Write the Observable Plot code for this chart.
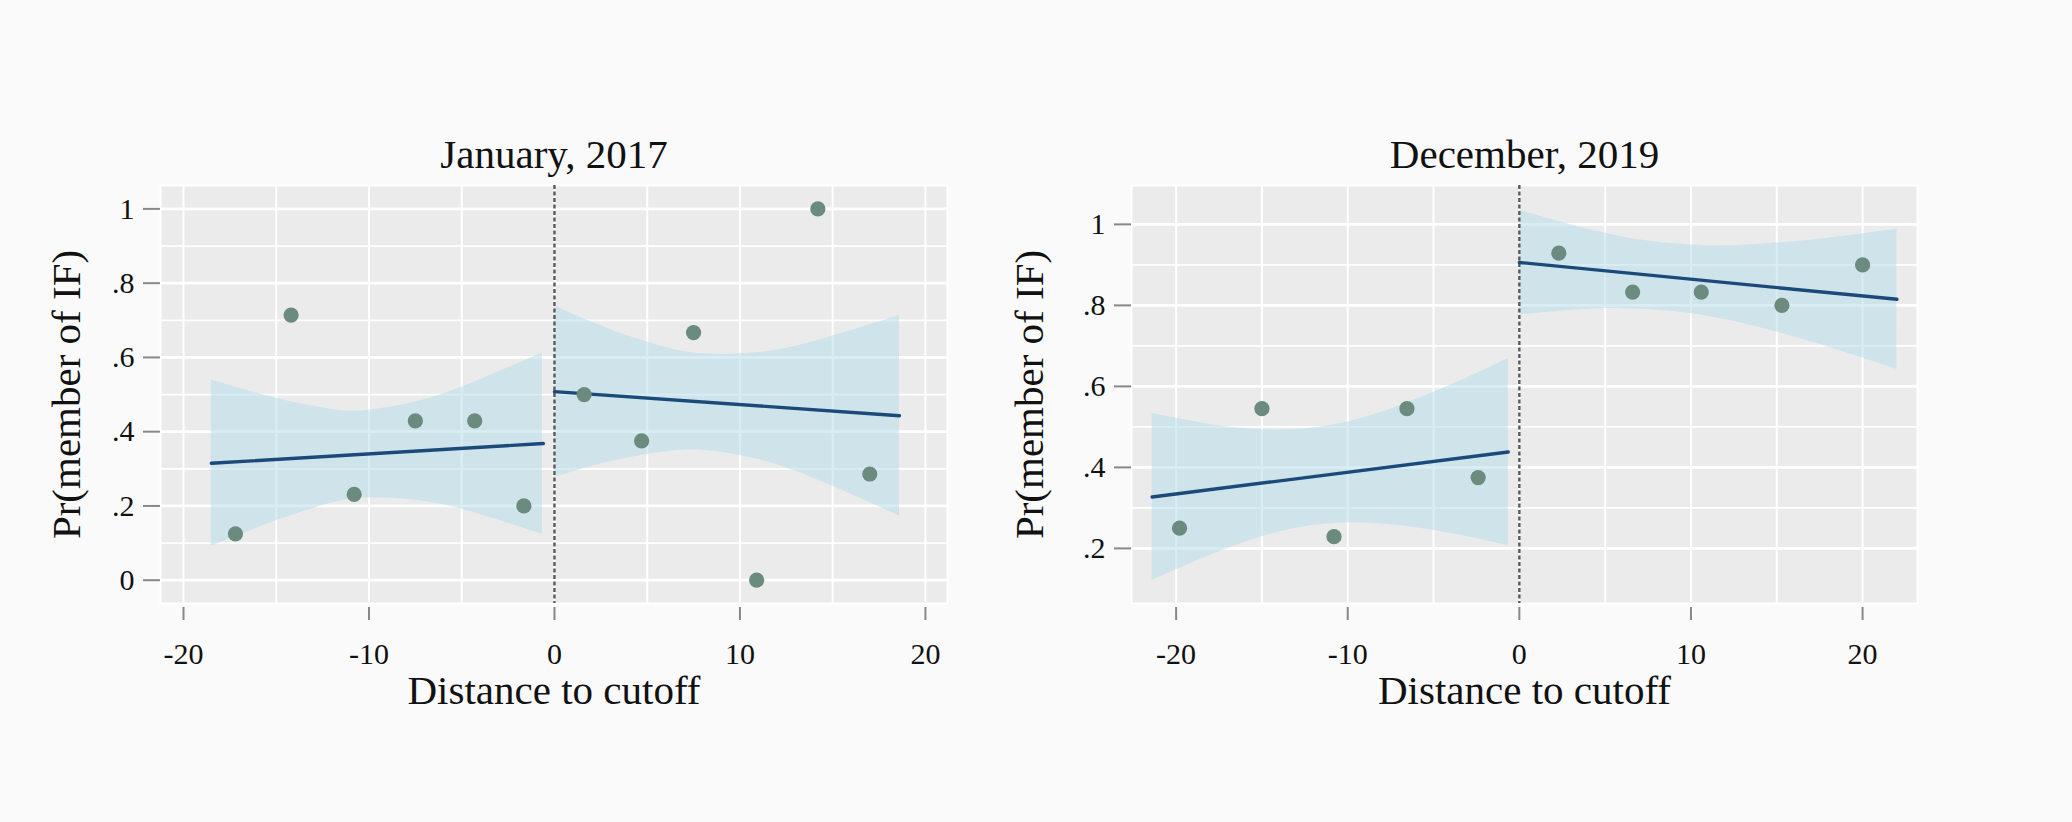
<!DOCTYPE html>
<html><head><meta charset="utf-8">
<script src="https://cdn.jsdelivr.net/npm/d3@7"></script>
<script src="https://cdn.jsdelivr.net/npm/@observablehq/plot@0.6"></script>
<style>
html,body{margin:0;padding:0;background:#fafafa;}
#wrap{display:flex;width:2072px;height:822px;background:#fafafa;}
</style></head><body><div id="wrap"></div>
<script>
// ---------- text ----------
const titles = ["January, 2017", "December, 2019"];
const xLabel = "Distance to cutoff";
const yLabel = "Pr(member of IF)";

// ---------- ticks ----------
const xTicks = [-20, -10, 0, 10, 20];
const xGrid = [-20, -15, -10, -5, 0, 5, 10, 15, 20];
const janYTicks = [0, 0.2, 0.4, 0.6, 0.8, 1];
const janYMinor = [0.1, 0.3, 0.5, 0.7, 0.9];
const decYTicks = [0.2, 0.4, 0.6, 0.8, 1];
const decYMinor = [0.3, 0.5, 0.7, 0.9];

// ---------- January 2017 ----------
const janX = [-17.2, -14.2, -10.8, -7.5, -4.3, -1.65, 1.6, 4.7, 7.5, 10.9, 14.2, 17.0];
const janY = [0.125, 0.714, 0.231, 0.429, 0.429, 0.2, 0.5, 0.375, 0.667, 0, 1, 0.286];
const janFitLX = [-18.5, -0.6], janFitLY = [0.315, 0.368];
const janFitRX = [0, 18.6], janFitRY = [0.508, 0.443];
const janBandLX = [-18.5, -15, -12, -10, -7, -4, -0.65];
const janBandLHi = [0.539, 0.490, 0.460, 0.458, 0.486, 0.540, 0.612];
const janBandLLo = [0.091, 0.160, 0.208, 0.222, 0.212, 0.177, 0.124];
const janBandRX = [0, 3, 6, 8.3, 11, 14, 18.6];
const janBandRHi = [0.739, 0.675, 0.627, 0.609, 0.613, 0.643, 0.713];
const janBandRLo = [0.277, 0.319, 0.346, 0.349, 0.325, 0.274, 0.173];

// ---------- December 2019 ----------
const decX = [-19.8, -15.0, -10.8, -6.55, -2.4, 2.3, 6.6, 10.6, 15.3, 20.0];
const decY = [0.25, 0.545, 0.229, 0.545, 0.375, 0.929, 0.833, 0.833, 0.8, 0.9];
const decFitLX = [-21.4, -0.65], decFitLY = [0.327, 0.438];
const decFitRX = [0, 22.0], decFitRY = [0.906, 0.815];
const decBandLX = [-21.4, -18, -15, -12, -9, -6, -3, -0.65];
const decBandLHi = [0.533, 0.506, 0.493, 0.497, 0.523, 0.568, 0.622, 0.669];
const decBandLLo = [0.121, 0.183, 0.229, 0.257, 0.263, 0.251, 0.229, 0.207];
const decBandRX = [0, 3, 6, 9, 12, 15, 18, 22];
const decBandRHi = [1.035, 0.999, 0.969, 0.952, 0.947, 0.954, 0.966, 0.988];
const decBandRLo = [0.776, 0.788, 0.792, 0.785, 0.765, 0.734, 0.697, 0.642];

// ---------- styles ----------
const pointColor = "#6a8b7e";
const lineColor = "#1b4a7a";
const bandColor = "#b3dcec";

const pts = (xs, ys) => xs.map((x, i) => ({x, y: ys[i]}));
const band = (xs, hi, lo) => xs.map((x, i) => ({x, hi: hi[i], lo: lo[i]}));
const fmtY = d => d === 0 ? "0" : d === 1 ? "1" : d.toFixed(1).replace(/^0/, "");

function panel(cfg) {
  return Plot.plot({
    width: cfg.w, height: 822,
    marginLeft: cfg.ml, marginRight: cfg.mr, marginTop: 185, marginBottom: 219,
    x: {domain: cfg.xDomain},
    y: {domain: cfg.yDomain},
    style: {fontFamily: "'Liberation Serif', serif", background: "#fafafa", color: "#111", overflow: "visible"},
    marks: [
      Plot.frame({fill: "#ebebeb", stroke: "white", strokeWidth: 2}),
      Plot.gridY(cfg.yMinor, {stroke: "white", strokeOpacity: 1, strokeWidth: 1.7}),
      Plot.gridY(cfg.yTicks, {stroke: "white", strokeOpacity: 1, strokeWidth: 2.8}),
      Plot.gridX(xGrid, {stroke: "white", strokeOpacity: 1, strokeWidth: 2}),
      Plot.areaY(cfg.bandL, {x: "x", y1: "lo", y2: "hi", curve: "natural", fill: bandColor, fillOpacity: 0.5}),
      Plot.areaY(cfg.bandR, {x: "x", y1: "lo", y2: "hi", curve: "natural", fill: bandColor, fillOpacity: 0.5}),
      Plot.ruleX([0], {stroke: "#5a5a5a", strokeWidth: 2.4, strokeDasharray: "4,2.5"}),
      Plot.line(cfg.fitL, {x: "x", y: "y", stroke: lineColor, strokeWidth: 3.4}),
      Plot.line(cfg.fitR, {x: "x", y: "y", stroke: lineColor, strokeWidth: 3.4}),
      Plot.dot(cfg.points, {x: "x", y: "y", r: 7.6, fill: pointColor}),
      Plot.axisY(cfg.yTicks, {tickSize: 17, tickPadding: 9, fontSize: 30, tickFormat: fmtY, stroke: "#888", fill: "#111", strokeWidth: 2, label: null}),
      Plot.axisX(xTicks, {tickSize: 13, dy: 4, tickFormat: () => "", stroke: "#888", strokeWidth: 2, label: null}),
      Plot.axisX(xTicks, {tickSize: 0, tickPadding: 39, fontSize: 30, fill: "#111", tickFormat: d => String(d), label: null}),
      Plot.text([cfg.title], {frameAnchor: "top", lineAnchor: "bottom", dy: -18, fontSize: 41, fill: "#111"}),
      Plot.text([xLabel], {frameAnchor: "bottom", lineAnchor: "bottom", dy: 100, fontSize: 41, fill: "#111"}),
      Plot.text([yLabel], {frameAnchor: "left", textAnchor: "middle", rotate: -90, lineAnchor: "bottom", dx: cfg.ydx, fontSize: 41, fill: "#111"})
    ]
  });
}

const wrap = document.getElementById("wrap");
wrap.append(panel({
  w: 1000, ml: 160, mr: 53, xDomain: [-21.24, 21.19], yDomain: [-0.0627, 1.063],
  yTicks: janYTicks, yMinor: janYMinor, title: titles[0], ydx: -81,
  points: pts(janX, janY),
  fitL: pts(janFitLX, janFitLY), fitR: pts(janFitRX, janFitRY),
  bandL: band(janBandLX, janBandLHi, janBandLLo), bandR: band(janBandRX, janBandRHi, janBandRLo)
}));
wrap.append(panel({
  w: 1072, ml: 131, mr: 155, xDomain: [-22.6, 23.2], yDomain: [0.064, 1.096],
  yTicks: decYTicks, yMinor: decYMinor, title: titles[1], ydx: -89,
  points: pts(decX, decY),
  fitL: pts(decFitLX, decFitLY), fitR: pts(decFitRX, decFitRY),
  bandL: band(decBandLX, decBandLHi, decBandLLo), bandR: band(decBandRX, decBandRHi, decBandRLo)
}));
</script></body></html>
